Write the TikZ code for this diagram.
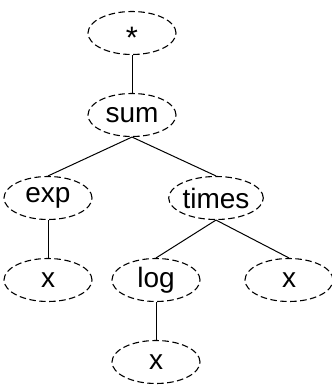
\documentclass[tikz,border=0pt]{standalone}
\usepackage{fontspec}
\setmainfont{Liberation Sans}
\usetikzlibrary{shapes.geometric}
\begin{document}
\begin{tikzpicture}[x=1bp,y=-1bp,
  tnode/.style={ellipse,draw,line width=1.1bp,dash pattern=on 6.5bp off 3.5bp,
    minimum width=88bp,minimum height=43bp,inner sep=0pt,
    font=\fontsize{28bp}{32bp}\selectfont},
  edge/.style={line width=1bp}]
\useasboundingbox (0,0) rectangle (332,386);
\node[tnode] (star) at (132,33) {\smash{\raisebox{-0.56em}{\fontsize{31bp}{32bp}\selectfont *}}};
\node[tnode] (sum) at (132,115) {sum};
\node[tnode] (exp) at (48,198) {exp};
\node[tnode] (times) at (216,198) {times};
\node[tnode] (x1) at (48,280) {x};
\node[tnode] (log) at (156,280) {log};
\node[tnode] (x2) at (289,280) {x};
\node[tnode] (x3) at (156,362) {x};
\draw[edge] (star.south) -- (sum.north);
\draw[edge] (sum.south) -- (exp.north);
\draw[edge] (sum.south) -- (times.north);
\draw[edge] (exp.south) -- (x1.north);
\draw[edge] (times.south) -- (log.north);
\draw[edge] (times.south) -- (x2.north);
\draw[edge] (log.south) -- (x3.north);
\end{tikzpicture}
\end{document}
